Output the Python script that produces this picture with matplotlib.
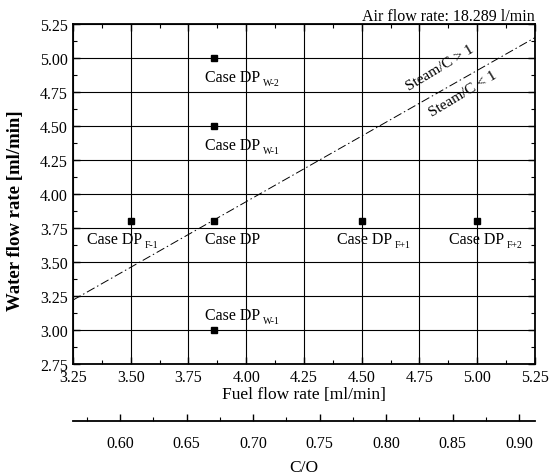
import matplotlib
matplotlib.use("Agg")
import matplotlib.pyplot as plt
from matplotlib.ticker import MultipleLocator, AutoMinorLocator, FixedLocator

plt.rcParams['font.family'] = ['Liberation Serif', 'DejaVu Serif']

# data
fuel = [3.86, 3.86, 3.86, 3.50, 3.86, 4.50, 5.00]
water = [5.00, 4.50, 3.00, 3.80, 3.80, 3.80, 3.80]
labels = ['Case DP', 'Case DP', 'Case DP', 'Case DP', 'Case DP', 'Case DP', 'Case DP']
subs = ['W-2', 'W-1', 'W-1', 'F-1', '', 'F+1', 'F+2']
label_dx = [-0.04, -0.04, -0.04, -0.19, -0.04, -0.107, -0.122]
label_dy = [-0.14, -0.14, 0.11, -0.13, -0.13, -0.13, -0.13]

steam_line_x = [3.25, 5.25]
steam_line_y = [3.22, 5.15]

co_per_fuel = 0.1737   # C/O per ml/min fuel
co_ticks = [0.60, 0.65, 0.70, 0.75, 0.80, 0.85, 0.90]
air_flow = 18.289

fig = plt.figure(figsize=(5.5, 4.77), dpi=100)
ax = fig.add_axes([0.1327, 0.2348, 0.84, 0.7128])

ax.plot(steam_line_x, steam_line_y, color='k', lw=0.7, ls=(0, (9, 3, 1.5, 3)))
ax.plot(fuel, water, 's', color='k', ms=5)
for x, y, t, s, dx, dy in zip(fuel, water, labels, subs, label_dx, label_dy):
    txt = ax.text(x + dx, y + dy, t, fontsize=11.5, ha='left', va='center')
    if s:
        ax.annotate(s, xy=(1, 0.2), xycoords=txt, xytext=(2, -4), textcoords='offset points',
                    fontsize=7, ha='left', va='bottom')

ax.text(4.84, 4.93, 'Steam/C > 1', rotation=31, fontsize=11, ha='center', va='center')
ax.text(4.94, 4.74, 'Steam/C < 1', rotation=31, fontsize=11, ha='center', va='center')

ax.set_xlim(3.25, 5.25)
ax.set_ylim(2.75, 5.25)
ax.xaxis.set_major_locator(MultipleLocator(0.25))
ax.yaxis.set_major_locator(MultipleLocator(0.25))
ax.xaxis.set_minor_locator(AutoMinorLocator(2))
ax.yaxis.set_minor_locator(AutoMinorLocator(2))
ax.xaxis.set_major_formatter(lambda v, p: f'{v:.2f}')
ax.yaxis.set_major_formatter(lambda v, p: f'{v:.2f}')
ax.tick_params(which='both', direction='in', top=True, right=True, labelsize=11.5)
ax.tick_params(which='major', length=5, width=1)
ax.tick_params(which='minor', length=3, width=0.8)
ax.grid(True, which='major', color='k', lw=0.8)
for sp in ax.spines.values():
    sp.set_linewidth(1.3)

ax.set_xlabel('Fuel flow rate [ml/min]', fontsize=12.5, labelpad=1)
ax.set_ylabel('Water flow rate [ml/min]', fontsize=13.5, fontweight='bold')
ax.yaxis.set_label_coords(-0.105, 0.455)
ax.set_title(f'Air flow rate: {air_flow} l/min', loc='right', fontsize=11.5, pad=3)

sec = ax.secondary_xaxis('bottom', functions=(lambda f: f * co_per_fuel, lambda c: c / co_per_fuel))
sec.spines['bottom'].set_position(('outward', 41))
sec.spines['bottom'].set_linewidth(1.3)
sec.xaxis.set_major_locator(FixedLocator(co_ticks))
sec.xaxis.set_minor_locator(MultipleLocator(0.025))
sec.xaxis.set_major_formatter(lambda v, p: f'{v:.2f}')
sec.tick_params(which='both', direction='in', labelsize=11.5, pad=10)
sec.tick_params(which='major', length=5, width=1)
sec.tick_params(which='minor', length=3, width=0.8)
sec.set_xlabel('C/O', fontsize=12.5, labelpad=6)

fig.savefig('out.png', dpi=100)
